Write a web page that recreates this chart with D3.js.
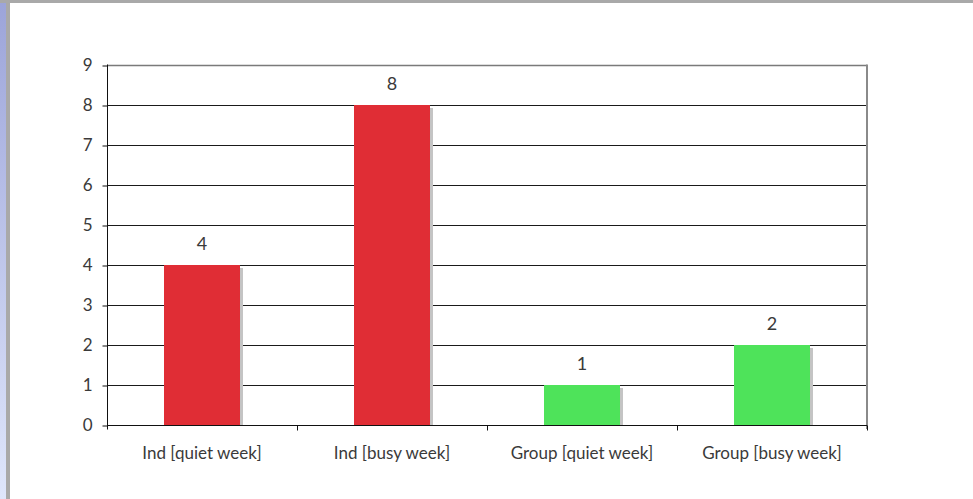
<!DOCTYPE html>
<html>
<head>
<meta charset="utf-8">
<script src="https://cdn.jsdelivr.net/npm/d3@7"></script>
<style>
  body { margin: 0; background: #fff; }
  svg text { font-family: Lato, "Open Sans", sans-serif; fill: #3a3a3a; }
</style>
</head>
<body>
<svg id="chart" width="973" height="499"></svg>
<script>
// chart data
var categories = ['Ind [quiet week]', 'Ind [busy week]', 'Group [quiet week]', 'Group [busy week]'];
var values = [4, 8, 1, 2];
var barColors = ['#e02d35', '#e02d35', '#4ee35a', '#4ee35a'];
var yTicks = [0, 1, 2, 3, 4, 5, 6, 7, 8, 9];

var svg = d3.select('#chart');

// page frame: blue strip on the left, grey edges
var defs = svg.append('defs');
var grad = defs.append('linearGradient')
    .attr('id', 'strip')
    .attr('x1', 0).attr('y1', 0).attr('x2', 0).attr('y2', 1);
grad.append('stop').attr('offset', '0%').attr('stop-color', '#9ca4d9');
grad.append('stop').attr('offset', '100%').attr('stop-color', '#dfe6fb');

svg.append('rect').attr('x', 0).attr('y', 0).attr('width', 6).attr('height', 499).attr('fill', 'url(#strip)');
svg.append('rect').attr('x', 6).attr('y', 0).attr('width', 4).attr('height', 499).attr('fill', '#a9a9a9');
svg.append('rect').attr('x', 0).attr('y', 0).attr('width', 973).attr('height', 3).attr('fill', '#a9a9a9');

// plot area (named so they don't clash with window.top)
var plotLeft = 107, plotRight = 867, plotTop = 65, plotBottom = 425;

var x = d3.scaleBand().domain(categories).range([plotLeft, plotRight]).paddingInner(0).paddingOuter(0);
var y = d3.scaleLinear().domain([0, 9]).range([plotBottom, plotTop]);

var barW = 76;

// gridlines
svg.append('g')
    .selectAll('line')
    .data(yTicks.slice(1))
    .enter()
    .append('line')
    .attr('x1', plotLeft).attr('x2', plotRight)
    .attr('y1', function(d) { return y(d) + 0.5; })
    .attr('y2', function(d) { return y(d) + 0.5; })
    .attr('stroke', function(d) { return d === 9 ? '#7a7a7a' : '#1a1a1a'; })
    .attr('stroke-width', function(d) { return d === 9 ? 1.5 : 1; });

// right border of plot
svg.append('line')
    .attr('x1', plotRight).attr('x2', plotRight)
    .attr('y1', plotTop - 0.5).attr('y2', plotBottom + 4)
    .attr('stroke', '#8a8a8a').attr('stroke-width', 2);

// bar shadows
svg.append('g')
    .selectAll('rect')
    .data(values)
    .enter()
    .append('rect')
    .attr('x', function(d, i) { return x(categories[i]) + x.bandwidth() / 2 - barW / 2 + 3; })
    .attr('y', function(d) { return y(d) + 3; })
    .attr('width', barW)
    .attr('height', function(d) { return plotBottom - y(d) - 3; })
    .attr('fill', '#c4c4c4');

// bars
svg.append('g')
    .selectAll('rect')
    .data(values)
    .enter()
    .append('rect')
    .attr('x', function(d, i) { return x(categories[i]) + x.bandwidth() / 2 - barW / 2; })
    .attr('y', function(d) { return y(d); })
    .attr('width', barW)
    .attr('height', function(d) { return plotBottom - y(d); })
    .attr('fill', function(d, i) { return barColors[i]; });

// value labels
svg.append('g')
    .selectAll('text')
    .data(values)
    .enter()
    .append('text')
    .attr('x', function(d, i) { return x(categories[i]) + x.bandwidth() / 2; })
    .attr('y', function(d) { return y(d) - 15; })
    .attr('text-anchor', 'middle')
    .style('font-size', '18px')
    .text(function(d) { return d; });

// y axis
var yAxis = d3.axisLeft(y).tickValues(yTicks).tickSize(5).tickPadding(10);
var gy = svg.append('g')
    .attr('transform', 'translate(' + (plotLeft + 0.5) + ',0.5)')
    .call(yAxis);
gy.select('.domain').attr('stroke', '#111').attr('d', 'M0,' + (plotTop - 1) + 'V' + (plotBottom + 4));
gy.selectAll('.tick line').attr('stroke', '#111');
gy.selectAll('.tick text').style('font-size', '17px').attr('fill', '#3a3a3a').style('font-family', 'Lato, sans-serif');

// x axis
var gx = svg.append('g')
    .attr('transform', 'translate(0,' + (plotBottom + 0.5) + ')');
gx.append('line')
    .attr('x1', plotLeft).attr('x2', plotRight)
    .attr('stroke', '#111');
gx.selectAll('.sep')
    .data(categories)
    .enter()
    .append('line')
    .attr('class', 'sep')
    .attr('x1', function(d) { return Math.round(x(d) + x.bandwidth()) + 0.5; })
    .attr('x2', function(d) { return Math.round(x(d) + x.bandwidth()) + 0.5; })
    .attr('y1', 0).attr('y2', 5)
    .attr('stroke', '#111');
gx.selectAll('.lbl')
    .data(categories)
    .enter()
    .append('text')
    .attr('class', 'lbl')
    .attr('x', function(d) { return x(d) + x.bandwidth() / 2; })
    .attr('y', 33)
    .attr('text-anchor', 'middle')
    .style('font-size', '17px')
    .text(function(d) { return d; });
</script>
</body>
</html>
